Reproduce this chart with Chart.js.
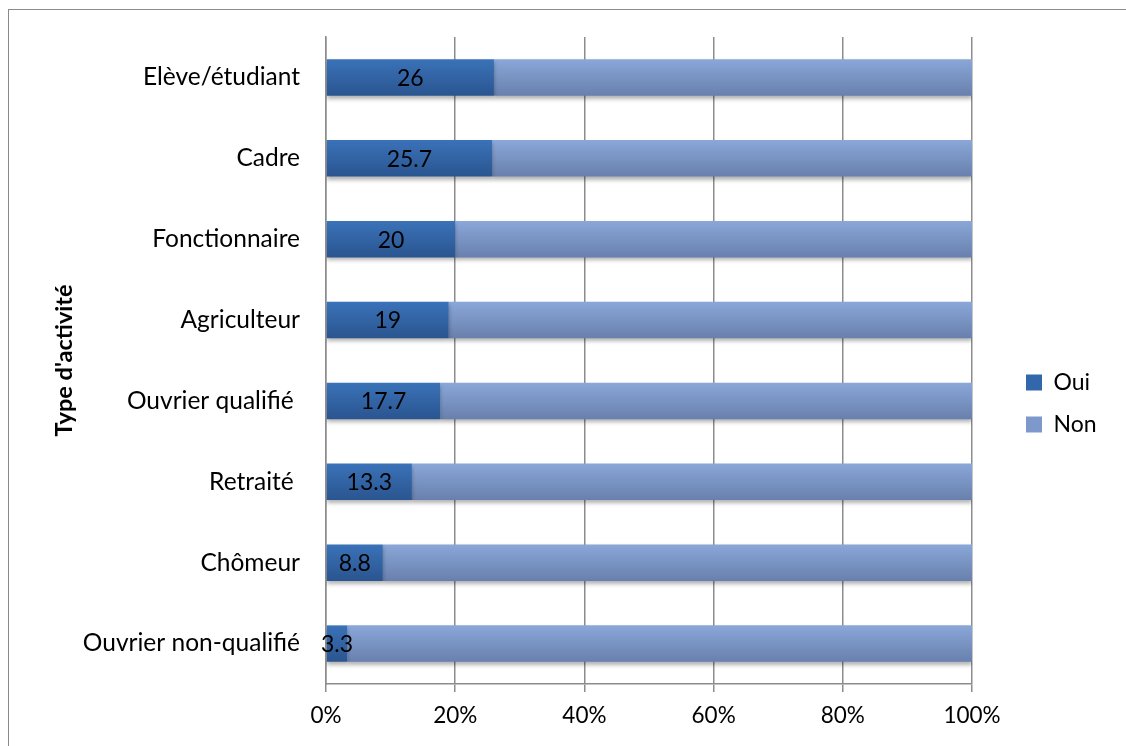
<!DOCTYPE html>
<html>
<head>
<meta charset="utf-8">
<script src="https://cdn.jsdelivr.net/npm/chart.js"></script>
<style>
  html, body { margin: 0; padding: 0; background: #fff; overflow: hidden; }
  #cadre { position: absolute; left: 8px; top: 9px; width: 1200px; height: 800px; border: 1.5px solid #8a8a8a; box-sizing: border-box; }
  #zone { position: absolute; left: 0; top: 0; width: 1126px; height: 746px; }
</style>
</head>
<body>
<div id="cadre"></div>
<div id="zone"><canvas id="graphique"></canvas></div>
<script>
// Données du graphique
const categories = ["Elève/étudiant", "Cadre", "Fonctionnaire", "Agriculteur", "Ouvrier qualifié ", "Retraité ", "Chômeur", "Ouvrier non-qualifié"];
const oui = [26, 25.7, 20, 19, 17.7, 13.3, 8.8, 3.3];
const non = [74, 74.3, 80, 81, 82.3, 86.7, 91.2, 96.7];
const ticksX = [0, 20, 40, 60, 80, 100];
const titreY = "Type d'activité";

const POLICE = "Lato, 'Open Sans', sans-serif";

// Dégradé vertical pour chaque barre (style Excel)
function degrade(haut, bas) {
    return function(c) {
        const chart = c.chart;
        const y = chart.scales.y;
        if (!y || c.dataIndex === undefined) return haut;
        const cy = y.getPixelForValue(c.dataIndex);
        const demi = 18;
        const g = chart.ctx.createLinearGradient(0, cy - demi, 0, cy + demi);
        g.addColorStop(0, haut);
        g.addColorStop(1, bas);
        return g;
    };
}

// Ombre sous les barres + étiquettes de valeur
const ombreEtiquettes = {
    id: "ombreEtiquettes",
    afterInit(chart) {
        const lg = chart.legend;
        const fitOrig = lg.fit;
        lg.fit = function() {
            fitOrig.call(this);
            this.width = 154;
        };
    },
    afterLayout(chart) {
        const lg = chart.legend;
        lg.left += 35; lg.right += 35;
        lg.top += 12; lg.bottom += 12;
    },
    beforeDatasetsDraw(chart) {
        const ctx = chart.ctx;
        ctx.save();
        ctx.shadowColor = "rgba(0,0,0,0.3)";
        ctx.shadowBlur = 4;
        ctx.shadowOffsetY = 3;
    },
    afterDatasetsDraw(chart) {
        const ctx = chart.ctx;
        ctx.restore();
        const meta = chart.getDatasetMeta(0);
        ctx.save();
        ctx.fillStyle = "#000";
        ctx.font = "23px " + POLICE;
        ctx.textAlign = "center";
        ctx.textBaseline = "middle";
        meta.data.forEach((bar, i) => {
            const x = (bar.x + bar.base) / 2;
            ctx.fillText(String(oui[i]), x, bar.y + 1);
        });
        ctx.restore();
    }
};

const grisAxe = "#8c8c8c";

new Chart(document.getElementById("graphique"), {
    type: "bar",
    data: {
        labels: categories,
        datasets: [
            {
                label: "Oui",
                data: oui,
                backgroundColor: degrade("#3a72b8", "#2a5590"),
                categoryPercentage: 1,
                barPercentage: 0.45
            },
            {
                label: "Non",
                data: non,
                backgroundColor: degrade("#8aa7d8", "#6880ad"),
                categoryPercentage: 1,
                barPercentage: 0.45
            }
        ]
    },
    options: {
        indexAxis: "y",
        responsive: true,
        maintainAspectRatio: false,
        animation: false,
        layout: { padding: { top: 37, left: 50, right: 0, bottom: 0 } },
        plugins: {
            tooltip: { enabled: false },
            legend: {
                position: "right",
                labels: {
                    boxWidth: 16,
                    boxHeight: 16,
                    padding: 19,
                    color: "#000",
                    font: { family: POLICE, size: 23 },
                    generateLabels(chart) {
                        return chart.data.datasets.map((d, i) => ({
                            text: d.label,
                            fillStyle: i === 0 ? "#3267ab" : "#7d99cc",
                            strokeStyle: "transparent",
                            lineWidth: 0,
                            datasetIndex: i
                        }));
                    }
                }
            }
        },
        scales: {
            x: {
                stacked: true,
                min: 0,
                max: 100,
                afterFit(s) { s.height = 62; },
                afterBuildTicks(s) { s.ticks = ticksX.map(v => ({ value: v })); },
                grid: { color: grisAxe, lineWidth: 1.5, tickLength: 8, tickColor: grisAxe },
                border: { color: grisAxe, width: 1.5 },
                ticks: {
                    color: "#000",
                    padding: 10,
                    maxRotation: 0,
                    font: { family: POLICE, size: 22.5 },
                    callback: v => v + "%"
                }
            },
            y: {
                stacked: true,
                afterFit(s) { s.width = 276; },
                grid: { display: false },
                border: { color: grisAxe, width: 1.5 },
                title: {
                    display: true,
                    text: titreY,
                    color: "#000",
                    font: { family: POLICE, size: 23.5, weight: "bold" },
                    padding: 0
                },
                ticks: {
                    color: "#000",
                    padding: 18,
                    font: { family: POLICE, size: 24.5 }
                }
            }
        }
    },
    plugins: [ombreEtiquettes]
});
</script>
</body>
</html>
